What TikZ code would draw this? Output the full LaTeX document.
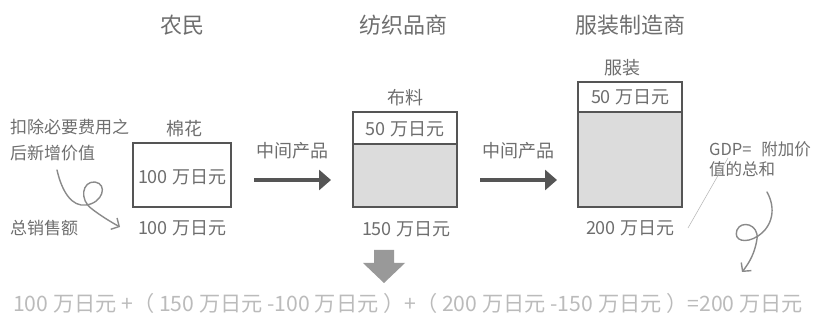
\documentclass[tikz,border=0pt]{standalone}
\usepackage{fontspec}
\setmainfont{Noto Sans CJK SC}
\usetikzlibrary{arrows.meta}
\definecolor{inkgray}{HTML}{6E6E6E}
\definecolor{boxgray}{HTML}{555555}
\definecolor{fillgray}{HTML}{DCDCDC}
\definecolor{lightgray}{HTML}{BBBBBB}
\definecolor{curlgray}{HTML}{8A8A8A}
\tikzset{
	title/.style={text=inkgray, font=\fontsize{22}{24}\selectfont, inner sep=0pt},
	label/.style={text=inkgray, font=\fontsize{18}{20}\selectfont, inner sep=0pt},
	note/.style={text=inkgray, font=\fontsize{17}{26}\selectfont, inner sep=0pt, align=left, anchor=west},
	frame/.style={draw=boxgray, line width=2pt},
	flow/.style={draw=boxgray, line width=4pt, -{Triangle[length=12pt,width=20pt]}},
	curl/.style={draw=curlgray, line width=1.4pt, line cap=round, -{Straight Barb[length=6pt,width=13pt]}}
}
\begin{document}
\begin{tikzpicture}[x=1pt, y=-1pt]
			%%%%% START %%%%%
			\useasboundingbox (0, 0) rectangle (817, 323);
			
			\node[title] (farmer) at (182, 25) {农民};
			\node[title] (weaver) at (403, 25) {纺织品商};
			\node[title] (maker) at (630, 25) {服装制造商};
			
			% farmer
			\draw[frame, fill=white] (133, 143) rectangle (231, 207);
			\node[label] (cotton) at (184, 129) {棉花};
			\node[label] (cottonval) at (182, 177) {100 万日元};
			\node[label] (cottonsum) at (182, 228) {100 万日元};
			\node[note] (added) at (10, 140) {扣除必要费用之\\后新增价值};
			\node[note] (sales) at (10, 228) {总销售额};
			\draw[curl] (57, 170) .. controls (62, 192) and (72, 207) .. (86, 205)
				.. controls (103, 203) and (108, 184) .. (95, 182)
				.. controls (82, 181) and (79, 200) .. (92, 209)
				.. controls (101, 216) and (111, 222) .. (120, 227);
			
			% weaver
			\draw[frame, fill=fillgray] (353, 112) rectangle (457, 207);
			\draw[frame, fill=white] (353, 112) rectangle (457, 144);
			\node[label] (cloth) at (405, 98) {布料};
			\node[label] (clothval) at (405, 129) {50 万日元};
			\node[label] (clothsum) at (406, 229) {150 万日元};
			
			% maker
			\draw[frame, fill=fillgray] (578, 82) rectangle (682, 207);
			\draw[frame, fill=white] (578, 82) rectangle (682, 112);
			\node[label] (dress) at (622, 68) {服装};
			\node[label] (dressval) at (630, 97) {50 万日元};
			\node[label] (dresssum) at (630, 228) {200 万日元};
			
			% flow arrows
			\node[label] (midA) at (292, 151) {中间产品};
			\node[label] (midB) at (518, 151) {中间产品};
			\coordinate (aA) at (254, 180);
			\coordinate (bA) at (331, 180);
			\coordinate (aB) at (480, 180);
			\coordinate (bB) at (557, 180);
			\draw[flow] (aA) -- (bA);
			\draw[flow] (aB) -- (bB);
			
			% gdp note
			\node[note, font=\fontsize{16.5}{20}\selectfont] (gdp) at (709, 159) {GDP=\hspace{0.6em}附加价\\值的总和};
			\draw[lightgray, line width=0.6pt] (688, 228) -- (728, 158);
			\draw[curl] (767, 192) .. controls (776, 208) and (773, 226) .. (758, 236)
				.. controls (746, 244) and (733, 241) .. (737, 230)
				.. controls (741, 220) and (759, 224) .. (757, 239)
				.. controls (755, 252) and (750, 262) .. (742, 272);
			
			% down arrow
			\fill[black!40] (374, 250) -- (394, 250) -- (394, 263) -- (405, 263)
				-- (384, 283) -- (363, 263) -- (374, 263) -- cycle;
			
			\node[label, text=lightgray, font=\fontsize{21.2}{23}\selectfont] (sum) at (408, 303)
				{100 万日元 +（ 150 万日元 -100 万日元 ）+（ 200 万日元 -150 万日元 ）=200 万日元};
			%%%%% END %%%%%
\end{tikzpicture}
\end{document}
